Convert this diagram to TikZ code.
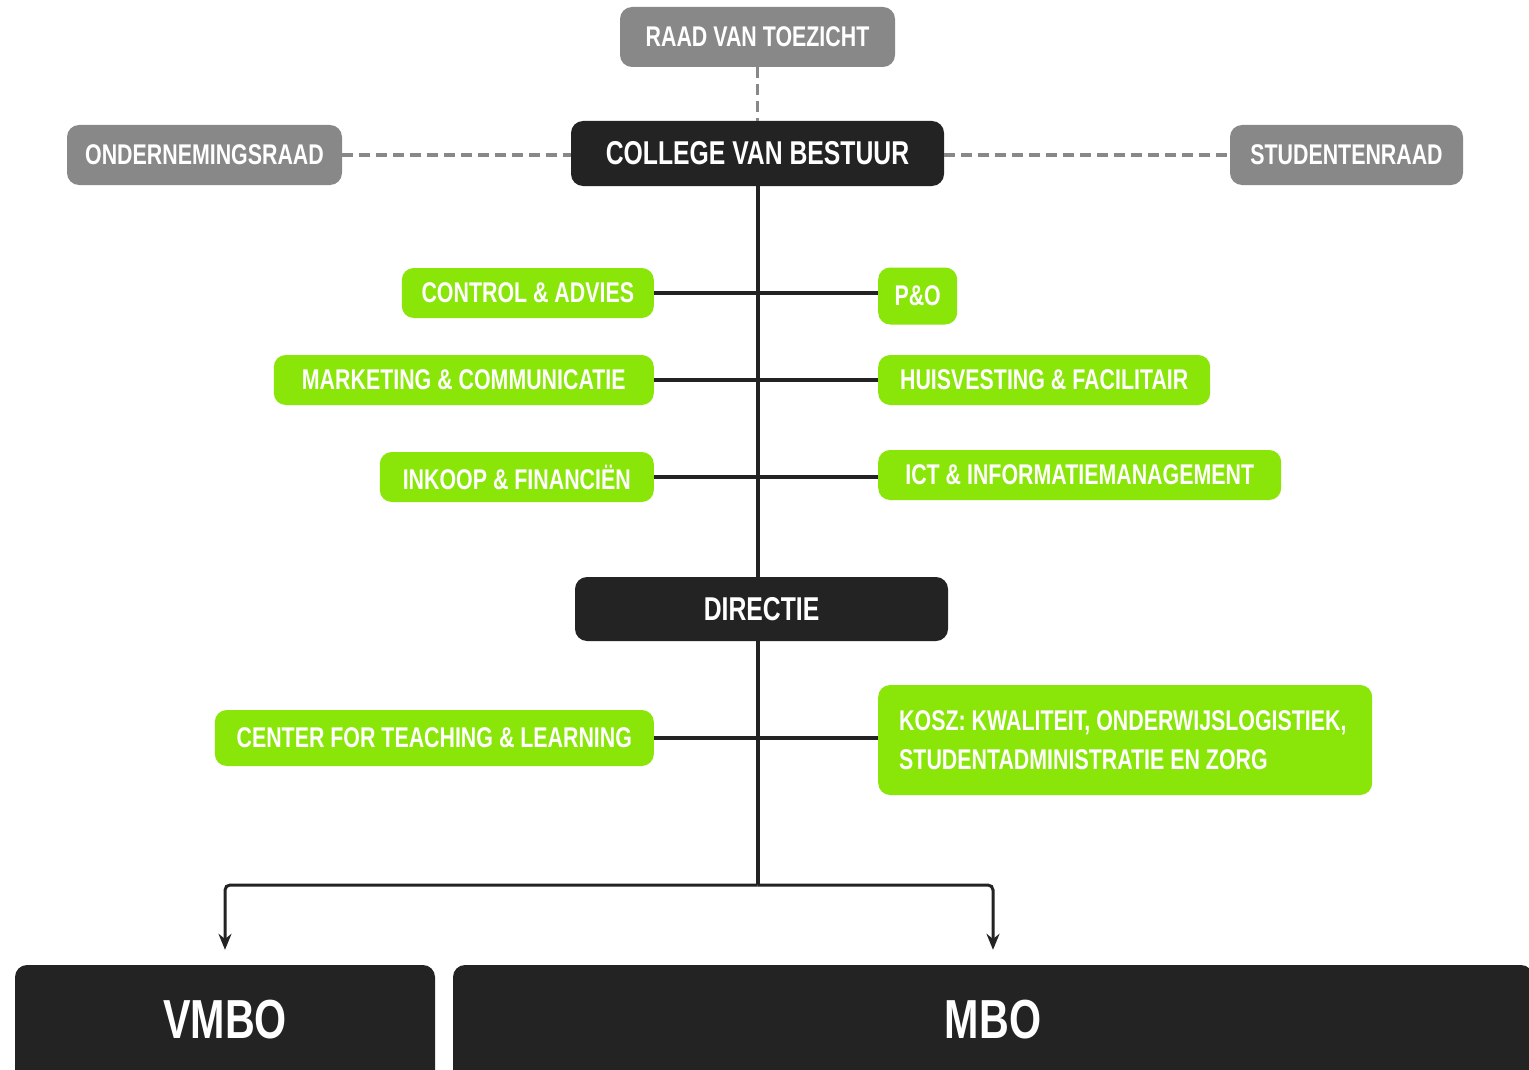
\documentclass[tikz,border=0pt]{standalone}
\usepackage{fontspec}
\usetikzlibrary{arrows.meta}
\newfontfamily\orgfont{Liberation Sans}[FakeStretch=0.75]
\definecolor{rvgreen}{RGB}{137,230,8}
\definecolor{rvgrey}{RGB}{136,136,136}
\definecolor{rvblack}{RGB}{35,35,35}
\tikzset{
  orgbox/.style  = {shape=rectangle, rounded corners=12pt, inner sep=0pt,
          text=white, align=center},
  council/.style = {orgbox, fill=rvgrey, minimum height=60pt,
          font=\orgfont\bfseries\fontsize{28.5}{32}\selectfont},
  board/.style   = {orgbox, fill=rvblack, minimum height=65pt,
          font=\orgfont\bfseries\fontsize{33}{36}\selectfont},
  staff/.style   = {orgbox, fill=rvgreen, minimum height=50pt,
          font=\orgfont\bfseries\fontsize{28.5}{39}\selectfont\frenchspacing},
  school/.style  = {orgbox, fill=rvblack, text height=73pt, text depth=62pt,
          font=\orgfont\bfseries\fontsize{55}{60}\selectfont},
  advice/.style  = {draw=rvgrey, line width=3.5pt, dash pattern=on 11pt off 6pt},
  line/.style    = {draw=rvblack, line width=4pt}
}
\begin{document}
\begin{tikzpicture}[x=1pt, y=-1pt]
  \clip (0,0) rectangle (1529,1070);
  \fill[white] (0,0) rectangle (1529,1070);

  % top of the organisation
  \node [council, minimum width=275pt] (raad) at (757.5,37) {RAAD VAN TOEZICHT};
  \node [board, minimum width=373pt]   (cvb)  at (757.5,153.5) {COLLEGE VAN BESTUUR};
  \node [council, minimum width=275pt] (or)   at (204.5,155) {ONDERNEMINGSRAAD};
  \node [council, minimum width=233pt] (sr)   at (1346.5,155) {STUDENTENRAAD};

  % staff services
  \node [staff, anchor=east, minimum width=252pt] (ctrl) at (654,293) {CONTROL \& ADVIES};
  \node [staff, anchor=west, minimum width=79pt, minimum height=57pt] (po) at (878,296) {P\&O};
  \node [staff, anchor=east, minimum width=380pt] (mark) at (654,380) {MARKETING \& COMMUNICATIE};
  \node [staff, anchor=west, minimum width=332pt] (huis) at (878,380) {HUISVESTING \& FACILITAIR};
  \node [staff, anchor=east, minimum width=274pt] (ink)  at (654,477) {INKOOP \& FINANCIËN};
  \node [staff, anchor=west, minimum width=403pt] (ict)  at (878,475) {ICT \& INFORMATIEMANAGEMENT};

  \node [board, minimum width=373pt, minimum height=64pt] (dir) at (761.5,609) {DIRECTIE};

  \node [staff, anchor=east, minimum width=439pt, minimum height=56pt] (ctl) at (654,738)
    {CENTER FOR TEACHING \& LEARNING};
  \node [staff, anchor=west, align=flush left, text width=452pt, inner xsep=21pt,
         minimum height=110pt] (kosz) at (878,740)
    {KOSZ: KWALITEIT, ONDERWIJSLOGISTIEK,\\STUDENTADMINISTRATIE EN ZORG};

  % schools
  \node [school, minimum width=420pt]  (vmbo) at (225,1032.5) {VMBO};
  \node [school, minimum width=1080pt] (mbo)  at (993,1032.5) {MBO};

  \coordinate (split) at (757.5,885);

  \draw [advice] (raad.south) -- (cvb.north);
  \draw [advice] (or.east) -- (or.east -| cvb.west);
  \draw [advice] (sr.west -| cvb.east) -- (sr.west);

  \draw [line] (cvb.south) -- (cvb.south |- dir.north);
  \draw [line] (cvb.south |- dir.south) -- (split);
  \foreach \l/\r in {ctrl/po, mark/huis, ink/ict, ctl/kosz}
    \draw [line] (\l.east) -- (\l.east -| \r.west);

  \draw [line, line width=3pt, rounded corners=5pt, -{Stealth[length=16pt,width=13pt]}]
    (split) -| ([yshift=15pt]vmbo.north);
  \draw [line, line width=3pt, rounded corners=5pt, -{Stealth[length=16pt,width=13pt]}]
    (split) -| ([yshift=15pt]mbo.north);
\end{tikzpicture}
\end{document}
